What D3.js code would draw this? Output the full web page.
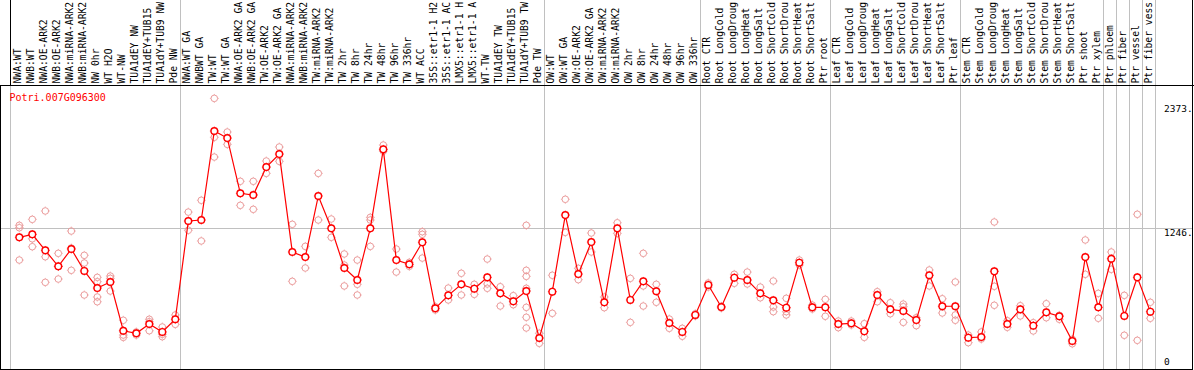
<!DOCTYPE html>
<html><head><meta charset="utf-8">
<script src="https://cdn.jsdelivr.net/npm/d3@7"></script>
<style>html,body{margin:0;padding:0;background:#fff;} svg{display:block;}</style>
</head><body><svg id="c" width="1194" height="370"></svg>
<script>
const title = "Potri.007G096300";
const categories = ["NWA:WT","NWB:WT","NWA:OE-ARK2","NWB:OE-ARK2","NWA:miRNA-ARK2","NWB:miRNA-ARK2","NW 0hr","WT H2O","WT-NW","TUA1dEY NW","TUA1dEY+TUB15 NW","TUA1dY+TUB9 NW","Pde NW",
"NWA:WT GA","NWBWT GA","TW:WT","TW:WT GA","NWA:OE-ARK2 GA","NWB:OE-ARK2 GA","TW:OE-ARK2","TW:OE-ARK2 GA","NWA:miRNA-ARK2 GA","NWB:miRNA-ARK2 GA","TW:miRNA-ARK2","TW:miRNA-ARK2 GA","TW 2hr","TW 8hr","TW 24hr","TW 48hr","TW 96hr","TW 336hr","WT ACC","35S::etr1-1 H2O","35S::etr1-1 ACC","LMX5::etr1-1 H2O","LMX5::etr1-1 ACC","WT-TW","TUA1dEY TW","TUA1dEY+TUB15 TW","TUA1dY+TUB9 TW","Pde TW",
"OW:WT","OW:WT GA","OW:OE-ARK2","OW:OE-ARK2 GA","OW:miRNA-ARK2","OW:miRNA-ARK2 GA","OW 2hr","OW 8hr","OW 24hr","OW 48hr","OW 96hr","OW 336hr",
"Root CTR","Root LongCold","Root LongDrought","Root LongHeat","Root LongSalt","Root ShortCold","Root ShortDrought","Root ShortHeat","Root ShortSalt","Ptr root",
"Leaf CTR","Leaf LongCold","Leaf LongDrought","Leaf LongHeat","Leaf LongSalt","Leaf ShortCold","Leaf ShortDrought","Leaf ShortHeat","Leaf ShortSalt","Ptr leaf",
"Stem CTR","Stem LongCold","Stem LongDrought","Stem LongHeat","Stem LongSalt","Stem ShortCold","Stem ShortDrought","Stem ShortHeat","Stem ShortSalt","Ptr shoot","Ptr xylem",
"Ptr phloem","Ptr fiber","Ptr vessel","Ptr fiber vessel"];
const groupEnds = ["Pde NW","Pde TW","OW 336hr","Ptr root","Ptr leaf","Ptr xylem","Ptr phloem","Ptr fiber","Ptr vessel","Ptr fiber vessel"];
const means = [1164,1191,1046,901,1058,859,704,759,317,294,
378,306,421,1312,1321,2128,2064,1563,1548,1801,
1919,1031,985,1539,1246,886,777,1246,1962,958,
919,1119,520,638,738,698,801,656,584,677,
251,671,1366,831,1121,575,1246,596,765,675,
387,306,460,732,532,798,777,656,593,526,
934,529,529,378,384,312,641,511,496,414,
820,539,539,254,260,856,378,511,363,484,
448,224,985,529,970,451,801,490];
const replicates = [[1273,1251,958],[1327,1151,1079],[1403,988,756],[1019,901,786],[1221,1067,865],[1001,931,641],[801,762,623,580],[813,792,677],[412,278,257],[306,278],
[421,399,317],[351,285,263],[460,375],[1393,1228],[1500,1131],[2424,2071,1892],[2119,2007],[1672,1454],[1672,1418],[1856,1744],
[1983,1853],[1282,765],[1082,886],[1744,1321],[1330,1164],[1013,913,723],[958,738,641],[1345,1321,1082],[2001,1946],[1058,849],
[937,901],[1215,1191,976],[535,505],[704,596],[838,641],[738,647],[967,741,702],[716,541],[635,553],[1273,865,810,702,529,439,342],
[294,203],[820,475],[1509,1209],[883,780],[1203,1031],[623,526],[1296,1200],[792,393],[1019,723,541],[738,575],
[423,339],[339,267],[471,451],[750,713],[539,523],[829,747],[849,741],[713,616],[768,532,490],[611,490,460],
[958,913],[550,514],[602,448],[405,345],[405,369],[381,257],[671,580],[571,471],[559,535,393],[435,363],
[868,723],[607,478],[759,460,412],[278,209],[306,242],[1303,720,548],[408,348],[544,451],[390,315],[562,435],
[457,421],[239,199],[1140,829],[656,430],[1031,874],[638,276],[1373,230],[575,430]];
const tickValues = [2373, 1246, 0];
const tickLabels = ["2373.", "1246.", "0"];
const gridValues = [1246];
const maxLabelChars = 14;

const W = 1194, H = 370;
const headerY = 85, plotBottom = 369, rightX = 1192.5;
const svg = d3.select("#c");
const x = d3.scalePoint().domain(categories).range([19.3, 1150.3]);
const y = d3.scaleLinear().domain([0, 2373]).range([365.7, 104]);
const font = "'DejaVu Sans Mono', monospace";

svg.append("rect").attr("width", W).attr("height", H).attr("fill", "#fff");

// grid / separators
const sepX = groupEnds.map(g => Math.floor(x(g) + 5) + 0.5);
svg.selectAll("line.sep").data(sepX).join("line").attr("class","sep")
  .attr("x1", d => d).attr("x2", d => d).attr("y1", 0).attr("y2", plotBottom)
  .attr("stroke", "#c0c0c0").attr("stroke-width", 1);
svg.append("line").attr("x1", 10.5).attr("x2", 10.5).attr("y1", headerY).attr("y2", plotBottom)
  .attr("stroke", "#c0c0c0");
svg.selectAll("line.grid").data(gridValues).join("line").attr("class","grid")
  .attr("x1", 0).attr("x2", rightX).attr("y1", d => Math.floor(y(d)) + 0.5).attr("y2", d => Math.floor(y(d)) + 0.5)
  .attr("stroke", "#c0c0c0");

// frame
const frame = svg.append("g").attr("stroke", "#000").attr("stroke-width", 1);
frame.append("line").attr("x1", 0).attr("x2", W).attr("y1", headerY + 0.5).attr("y2", headerY + 0.5);
frame.append("line").attr("x1", 0).attr("x2", rightX).attr("y1", plotBottom + 0.5).attr("y2", plotBottom + 0.5);
frame.append("line").attr("x1", 0.5).attr("x2", 0.5).attr("y1", headerY).attr("y2", H);
frame.append("line").attr("x1", 10.5).attr("x2", 10.5).attr("y1", 0).attr("y2", headerY);
frame.append("line").attr("x1", rightX).attr("x2", rightX).attr("y1", 0).attr("y2", H);

// header labels (shown truncated to 14 characters, as in the original)
svg.append("g").selectAll("text").data(categories).join("text")
  .attr("transform", d => `translate(${x(d) + 2},83.5) rotate(-90)`)
  .attr("font-family", font).attr("font-size", "9.7px").attr("fill", "#000")
  .text(d => d.slice(0, maxLabelChars).trimEnd());

// title
svg.append("text").attr("x", 9.5).attr("y", 101).attr("font-family", font).attr("font-size", "10px")
  .attr("fill", "#ff0000").text(title);

// right tick labels
svg.append("g").selectAll("text").data(tickValues).join("text")
  .attr("x", 1164).attr("y", d => Math.min(y(d) + 7.7, 365))
  .attr("font-family", font).attr("font-size", "9.5px").attr("fill", "#000")
  .text((d, i) => tickLabels[i]);

function marker(g, cx, cy, r, color, sw, fill) {
  g.append("circle").attr("cx", cx).attr("cy", cy).attr("r", r)
    .attr("fill", fill).attr("stroke", color).attr("stroke-width", sw);
  const e = r + 1.1, s = r + 0.2;
  g.append("path").attr("d",
    `M${cx},${cy - e}V${cy - s}M${cx},${cy + e}V${cy + s}M${cx - e},${cy}H${cx - s}M${cx + e},${cy}H${cx + s}`)
    .attr("stroke", color).attr("stroke-width", 0.9).attr("fill", "none");
}

// replicates
const rg = svg.append("g");
categories.forEach((c, i) => {
  replicates[i].forEach(v => marker(rg, x(c), y(v), 3.3, "#eb9c9c", 1, "none"));
});

// mean line
const line = d3.line().x((d, i) => x(categories[i])).y(d => y(d));
svg.append("path").datum(means).attr("d", line).attr("fill", "none")
  .attr("stroke", "#ff0000").attr("stroke-width", 1.2);

// mean markers
const mg = svg.append("g");
categories.forEach((c, i) => marker(mg, x(c), y(means[i]), 3.3, "#ff0000", 1.4, "#fff"));
</script>
</body></html>
